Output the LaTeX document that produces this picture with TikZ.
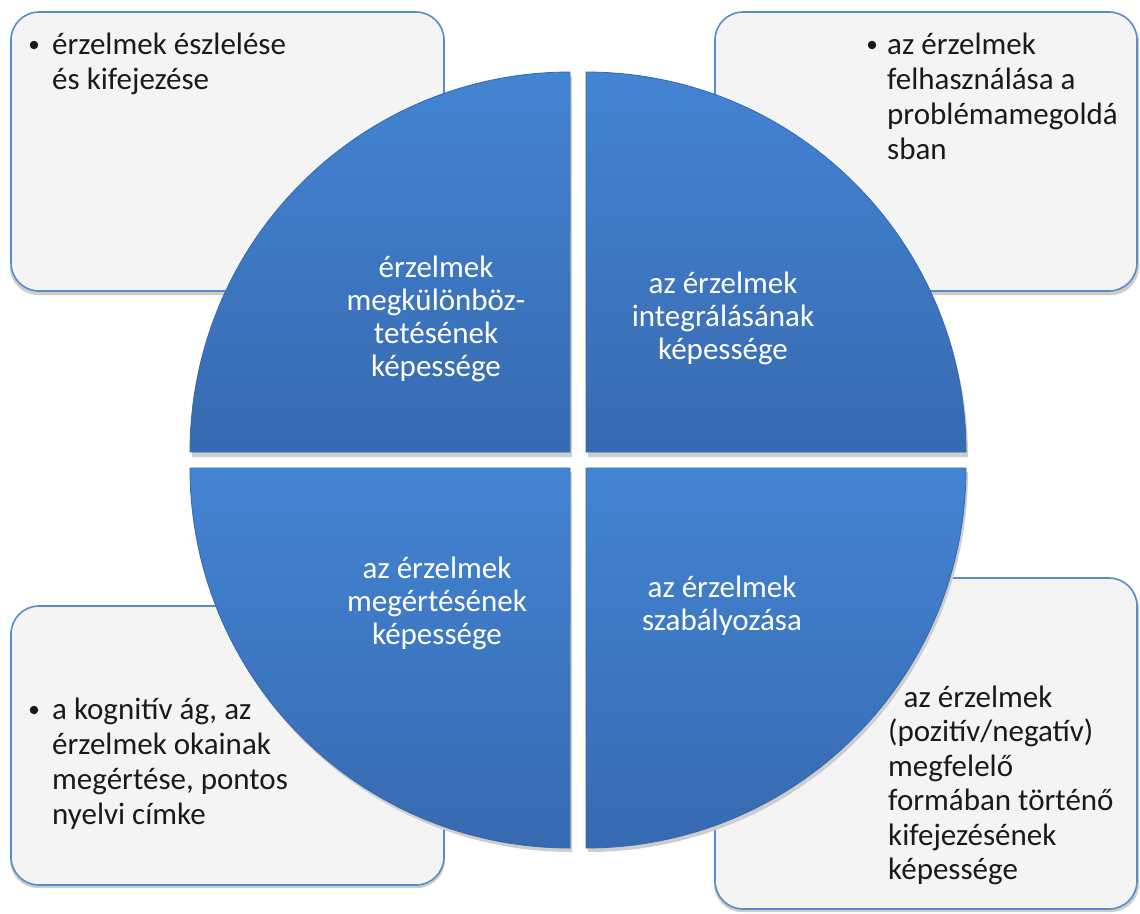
\documentclass[tikz,border=0pt]{standalone}
\usepackage{fontspec}
\setmainfont{Carlito}
\definecolor{boxfill}{HTML}{F4F4F4}
\definecolor{boxborder}{HTML}{5B8BC9}
\definecolor{shadowgray}{HTML}{CDCDCD}
\definecolor{qtop}{HTML}{4384D3}
\definecolor{qbot}{HTML}{376AB0}
\definecolor{qedge}{HTML}{3568AE}
\definecolor{txt}{HTML}{1A1A1A}
\begin{document}
\begin{tikzpicture}[x=1pt,y=-1pt,
  box/.style={draw=boxborder, line width=1.6pt, fill=boxfill, rounded corners=28pt},
  boxshadow/.style={fill=shadowgray, rounded corners=28pt},
  quad/.style={top color=qtop, bottom color=qbot, draw=qedge, line width=0.8pt},
  quadshadow/.style={fill=shadowgray},
  ctext/.style={text=white, font=\fontsize{31}{33}\selectfont, anchor=base, inner sep=0pt},
  btext/.style={text=txt, font=\fontsize{31}{35}\selectfont, anchor=base west, inner sep=0pt},
  bullet/.style={circle, fill=txt, inner sep=0pt, minimum size=8.5pt}
]
\useasboundingbox (0,0) rectangle (1140,913);
\fill[white] (0,0) rectangle (1140,913);

% corner boxes
\fill[boxshadow] (10,15) rectangle (445,295);
\fill[boxshadow] (714,15) rectangle (1139,295);
\fill[boxshadow] (10,609) rectangle (445,888);
\fill[boxshadow] (714,581) rectangle (1139,912);
\path[box] (11,12) rectangle (444,291);
\path[box] (715,12) rectangle (1137,291);
\path[box] (11,606) rectangle (444,885);
\path[box] (715,578) rectangle (1137,909);

% quadrant shadows
\fill[quadshadow] (572,457) -- (192,457) arc[start angle=180,end angle=90,radius=380pt] -- cycle;
\fill[quadshadow] (588,457) -- (588,77) arc[start angle=90,end angle=0,radius=380pt] -- cycle;
\fill[quadshadow] (572,472) -- (192,472) arc[start angle=180,end angle=270,radius=380pt] -- cycle;
\fill[quadshadow] (588,472) -- (968,472) arc[start angle=0,end angle=-90,radius=380pt] -- cycle;

% quadrants
\path[quad] (570,452) -- (190,452) arc[start angle=180,end angle=90,radius=380pt] -- cycle;
\path[quad] (586,452) -- (586,72) arc[start angle=90,end angle=0,radius=380pt] -- cycle;
\path[quad] (570,468) -- (190,468) arc[start angle=180,end angle=270,radius=380pt] -- cycle;
\path[quad] (586,468) -- (966,468) arc[start angle=0,end angle=-90,radius=380pt] -- cycle;

% quadrant texts
\node[ctext] (q1) at (436,277) {\begin{tabular}[t]{@{}c@{}}érzelmek\\megkülönböz-\\tetésének\\képessége\end{tabular}};
\node[ctext] (q2) at (723,293) {\begin{tabular}[t]{@{}c@{}}az érzelmek\\integrálásának\\képessége\end{tabular}};
\node[ctext] (q3) at (437,578) {\begin{tabular}[t]{@{}c@{}}az érzelmek\\megértésének\\képessége\end{tabular}};
\node[ctext] (q4) at (722,597) {\begin{tabular}[t]{@{}c@{}}az érzelmek\\szabályozása\end{tabular}};

% box texts
\node[bullet] (b1) at (34,45) {};
\node[btext] (t1) at (52,54) {\begin{tabular}[t]{@{}l@{}}érzelmek észlelése\\és kifejezése\end{tabular}};
\node[bullet] (b2) at (872,45) {};
\node[btext] (t2) at (887,54) {\begin{tabular}[t]{@{}l@{}}az érzelmek\\felhasználása a\\problémamegoldá\\sban\end{tabular}};
\node[bullet] (b3) at (34,710) {};
\node[btext] (t3) at (52,719) {\begin{tabular}[t]{@{}l@{}}a kognitív ág, az\\érzelmek okainak\\megértése, pontos\\nyelvi címke\end{tabular}};
\node[btext, font=\fontsize{31}{34.5}\selectfont] (t4) at (888,707) {\begin{tabular}[t]{@{}l@{}}\hspace*{0.5em}az érzelmek\\(pozitív/negatív)\\megfelelő\\formában történő\\kifejezésének\\képessége\end{tabular}};
\end{tikzpicture}
\end{document}
